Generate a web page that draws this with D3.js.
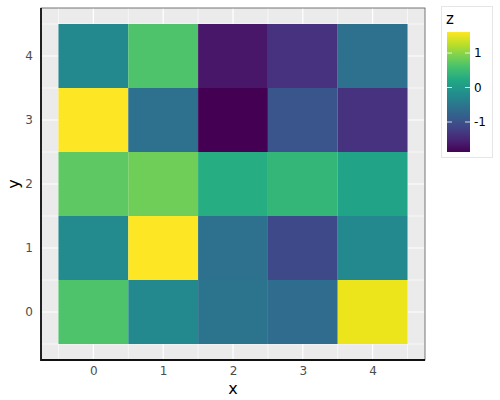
<!DOCTYPE html>
<html>
<head>
<meta charset="utf-8">
<script src="https://cdn.jsdelivr.net/npm/d3@7"></script>
<style>
  body { margin: 0; background: #fff; }
  text { font-family: "DejaVu Sans", sans-serif; }
</style>
</head>
<body>
<div id="chart"></div>
<script>
// heatmap values, one row per y (0..4), columns x = 0..4
var xCats = [0, 1, 2, 3, 4]
var yCats = [0, 1, 2, 3, 4]
var zRow0 = [0.64, -0.23, -0.55, -0.65, 1.51]
var zRow1 = [-0.22, 1.60, -0.58, -1.10, -0.23]
var zRow2 = [0.74, 0.84, 0.29, 0.43, 0.15]
var zRow3 = [1.61, -0.58, -1.87, -0.97, -1.38]
var zRow4 = [-0.23, 0.64, -1.66, -1.38, -0.58]
var legendTicks = [-1, 0, 1]

var rows = [zRow0, zRow1, zRow2, zRow3, zRow4]
var data = []
yCats.forEach(function (yv, i) {
  xCats.forEach(function (xv, j) {
    data.push({ x: xv, y: yv, z: rows[i][j] })
  })
})

var W = 500, H = 400
var panel = { left: 41, right: 425, top: 8, bottom: 360 }

var svg = d3.select("#chart").append("svg")
  .attr("width", W).attr("height", H)

var x = d3.scaleLinear().domain([-0.75, 4.75]).range([panel.left, panel.right])
var y = d3.scaleLinear().domain([-0.75, 4.75]).range([panel.bottom, panel.top])

var zExt = d3.extent(data, function (d) { return d.z })
var color = d3.scaleSequential(d3.interpolateViridis).domain(zExt)

// panel background
svg.append("rect")
  .attr("x", panel.left).attr("y", panel.top)
  .attr("width", panel.right - panel.left).attr("height", panel.bottom - panel.top)
  .attr("fill", "#ebebeb")

// grid lines: minor at half steps, major at integers
var minor = [-0.5, 0.5, 1.5, 2.5, 3.5, 4.5]
var grid = svg.append("g")
minor.forEach(function (v) {
  grid.append("line").attr("x1", x(v)).attr("x2", x(v))
    .attr("y1", panel.top).attr("y2", panel.bottom)
    .attr("stroke", "#fff").attr("stroke-width", 0.6)
  grid.append("line").attr("y1", y(v)).attr("y2", y(v))
    .attr("x1", panel.left).attr("x2", panel.right)
    .attr("stroke", "#fff").attr("stroke-width", 0.6)
})
xCats.forEach(function (v) {
  grid.append("line").attr("x1", x(v)).attr("x2", x(v))
    .attr("y1", panel.top).attr("y2", panel.bottom)
    .attr("stroke", "#fff").attr("stroke-width", 1.2)
})
yCats.forEach(function (v) {
  grid.append("line").attr("y1", y(v)).attr("y2", y(v))
    .attr("x1", panel.left).attr("x2", panel.right)
    .attr("stroke", "#fff").attr("stroke-width", 1.2)
})

// tiles
svg.append("g").selectAll("rect")
  .data(data)
  .join("rect")
  .attr("x", function (d) { return x(d.x - 0.5) })
  .attr("y", function (d) { return y(d.y + 0.5) })
  .attr("width", x(0.5) - x(-0.5))
  .attr("height", y(-0.5) - y(0.5))
  .attr("fill", function (d) { return color(d.z) })

// panel border
svg.append("rect")
  .attr("x", panel.left).attr("y", panel.top)
  .attr("width", panel.right - panel.left).attr("height", panel.bottom - panel.top)
  .attr("fill", "none").attr("stroke", "#555").attr("stroke-width", 0.8)
svg.append("path")
  .attr("d", "M" + panel.left + "," + panel.top + "V" + panel.bottom + "H" + panel.right)
  .attr("fill", "none").attr("stroke", "#111").attr("stroke-width", 1.8)

// axes
var xAxis = svg.append("g")
  .attr("transform", "translate(0," + panel.bottom + ")")
  .call(d3.axisBottom(x).tickValues(xCats).tickFormat(d3.format("d")).tickSize(0).tickPadding(6))
var yAxis = svg.append("g")
  .attr("transform", "translate(" + panel.left + ",0)")
  .call(d3.axisLeft(y).tickValues(yCats).tickFormat(d3.format("d")).tickSize(0).tickPadding(8))
;[xAxis, yAxis].forEach(function (a) {
  a.select(".domain").remove()
  a.attr("font-family", "DejaVu Sans, sans-serif").attr("font-size", 12)
  a.selectAll("text").attr("fill", "#4d4d4d")
})

svg.append("text")
  .attr("x", (panel.left + panel.right) / 2).attr("y", 394)
  .attr("text-anchor", "middle").style("font-size", "16px").attr("fill", "#000")
  .text("x")
svg.append("text")
  .attr("transform", "translate(19," + ((panel.top + panel.bottom) / 2) + ") rotate(-90)")
  .attr("text-anchor", "middle").style("font-size", "16px").attr("fill", "#000")
  .text("y")

// legend
var leg = svg.append("g")
leg.append("rect")
  .attr("x", 441.5).attr("y", 6.5).attr("width", 51).attr("height", 151)
  .attr("fill", "#fff").attr("stroke", "#e6e6e6")
leg.append("text")
  .attr("x", 446).attr("y", 24)
  .style("font-size", "15px").attr("fill", "#000")
  .text("z")

var barY = d3.scaleLinear().domain(zExt).range([152, 32])
var defs = svg.append("defs")
var grad = defs.append("linearGradient").attr("id", "zgrad")
  .attr("x1", "0").attr("y1", "1").attr("x2", "0").attr("y2", "0")
d3.range(0, 1.0001, 0.1).forEach(function (t) {
  grad.append("stop").attr("offset", t).attr("stop-color", d3.interpolateViridis(t))
})
leg.append("rect")
  .attr("x", 447).attr("y", 32).attr("width", 23).attr("height", 120)
  .attr("fill", "url(#zgrad)")

legendTicks.forEach(function (v) {
  var ty = barY(v)
  leg.append("line").attr("x1", 447).attr("x2", 452).attr("y1", ty).attr("y2", ty)
    .attr("stroke", "#fff").attr("stroke-opacity", 0.8)
  leg.append("line").attr("x1", 465).attr("x2", 470).attr("y1", ty).attr("y2", ty)
    .attr("stroke", "#fff").attr("stroke-opacity", 0.8)
  leg.append("text")
    .attr("x", 474).attr("y", ty).attr("dy", "0.35em")
    .style("font-size", "12px").attr("fill", "#000")
    .text(v < 0 ? "-" + Math.abs(v) : v)
})
</script>
</body>
</html>
